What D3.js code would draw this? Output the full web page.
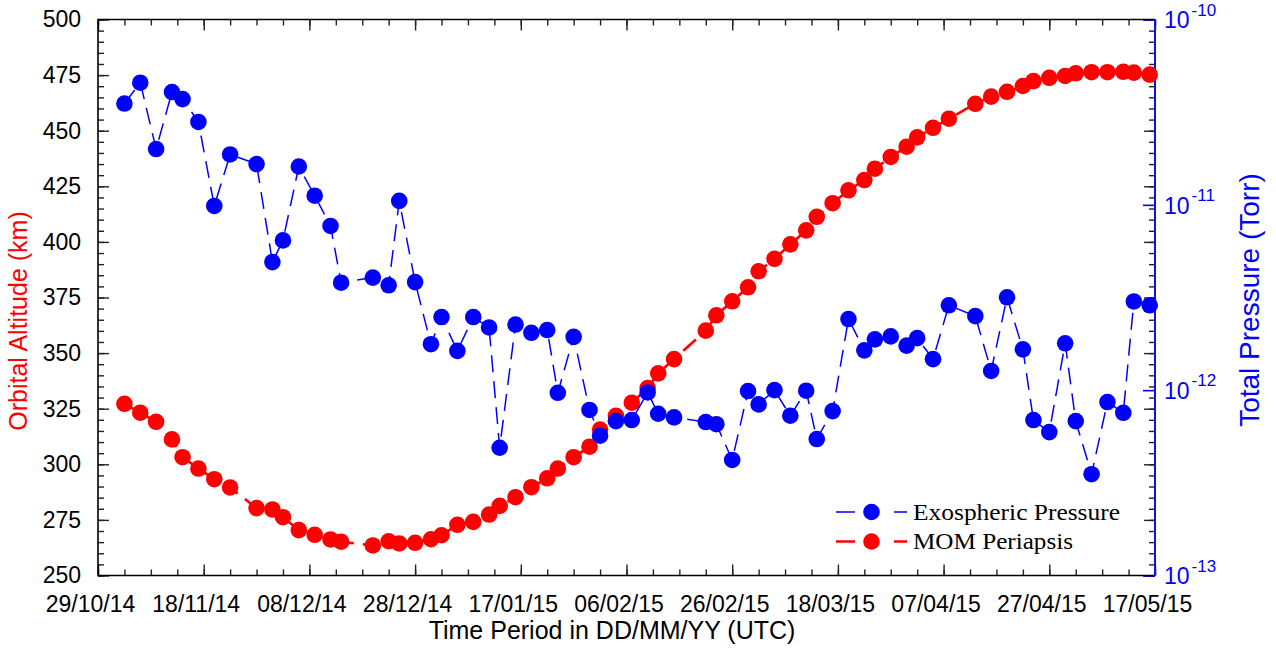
<!DOCTYPE html>
<html><head><meta charset="utf-8">
<script src="https://cdn.jsdelivr.net/npm/d3@7"></script>
<style>
body{margin:0;background:#fff;}
svg{display:block;}
text{font-family:"Liberation Sans",Arial,Helvetica,sans-serif;}
</style></head><body>
<svg id="chart" width="1276" height="653"></svg>
<script>
// ---------------- data ----------------
const dates = ["2014-11-03","2014-11-06","2014-11-09","2014-11-12","2014-11-14","2014-11-17","2014-11-20","2014-11-23","2014-11-28",
"2014-12-01","2014-12-03","2014-12-06","2014-12-09","2014-12-12","2014-12-14","2014-12-20","2014-12-23","2014-12-25","2014-12-28","2014-12-31",
"2015-01-02","2015-01-05","2015-01-08","2015-01-11","2015-01-13","2015-01-16","2015-01-19","2015-01-22","2015-01-24","2015-01-27","2015-01-30",
"2015-02-01","2015-02-04","2015-02-07","2015-02-10","2015-02-12","2015-02-15","2015-02-21","2015-02-23","2015-02-26",
"2015-03-01","2015-03-03","2015-03-06","2015-03-09","2015-03-12","2015-03-14","2015-03-17","2015-03-20","2015-03-23","2015-03-25","2015-03-28","2015-03-31",
"2015-04-02","2015-04-05","2015-04-08","2015-04-13","2015-04-16","2015-04-19","2015-04-22","2015-04-24","2015-04-27","2015-04-30",
"2015-05-02","2015-05-05","2015-05-08","2015-05-11","2015-05-13","2015-05-16"];

const periapsisKm = [327.2,323.2,319.1,311.2,303.2,298.1,293.3,289.6,280.3,279.7,276.2,270.4,268.3,266.2,265.2,
263.5,265.4,264.4,264.7,266.3,268.1,272.8,274.1,277.4,281.3,285.2,289.7,293.7,298.1,303.2,307.9,315.6,321.8,327.7,334.3,340.9,347.3,
360.1,367.0,373.3,379.6,386.8,392.4,398.9,405.2,411.3,417.4,423.2,427.8,432.9,438.2,442.8,447.0,451.3,455.4,
462.1,465.3,467.5,470.1,472.3,473.8,474.6,475.8,476.3,476.3,476.5,476.1,475.2];

const pressureTorr = [3.52e-11,4.56e-11,2.00e-11,4.06e-11,3.72e-11,2.80e-11,9.86e-12,1.87e-11,
1.66e-11,4.91e-12,6.43e-12,1.61e-11,1.12e-11,7.69e-12,3.80e-12,
4.05e-12,3.68e-12,1.05e-11,3.83e-12,1.77e-12,2.48e-12,1.63e-12,2.48e-12,2.18e-12,4.89e-13,2.26e-12,2.04e-12,2.11e-12,9.68e-13,1.94e-12,7.82e-13,5.68e-13,6.81e-13,6.90e-13,9.72e-13,7.46e-13,7.13e-13,
6.73e-13,6.55e-13,4.20e-13,9.89e-13,8.38e-13,1.00e-12,7.28e-13,9.93e-13,5.45e-13,7.71e-13,2.42e-12,1.64e-12,1.88e-12,1.95e-12,1.74e-12,1.91e-12,1.47e-12,2.87e-12,
2.51e-12,1.27e-12,3.17e-12,1.66e-12,6.90e-13,5.94e-13,1.79e-12,6.81e-13,3.52e-13,8.63e-13,7.55e-13,3.01e-12,2.87e-12];

const xTickLabels = ["29/10/14","18/11/14","08/12/14","28/12/14","17/01/15","06/02/15","26/02/15","18/03/15","07/04/15","27/04/15","17/05/15"];
const leftTicks = [250,275,300,325,350,375,400,425,450,475,500];
const rightTickExponents = [-13,-12,-11,-10];
const seriesNames = ["Exospheric Pressure","MOM Periapsis"];
const axisTitles = {x:"Time Period in DD/MM/YY (UTC)", left:"Orbital Altitude (km)", right:"Total Pressure (Torr)"};

// ---------------- setup ----------------
const L = 98, R = 1155, T = 19.5, B = 575.5;
const RED = "#ff0000", BLUE = "#0000ff";
const svg = d3.select("#chart");
const parse = d3.utcParse("%Y-%m-%d");
const parseTick = d3.utcParse("%d/%m/%y");
const majorDates = xTickLabels.map(parseTick);
const x = d3.scaleUtc().domain([majorDates[0], majorDates[majorDates.length-1]]).range([L, R]);
const yL = d3.scaleLinear().domain([250, 500]).range([B, T]);
const yR = d3.scaleLog().domain([1e-13, 1e-10]).range([B, T]);

const minorDates = d3.utcDay.range(majorDates[0], d3.utcDay.offset(majorDates[majorDates.length-1], 1), 5);
const minorKm = d3.range(250, 501, 5);

const data = dates.map((d, i) => ({date: parse(d), km: periapsisKm[i], p: pressureTorr[i]}));

function styleAxis(g){
  g.select(".domain").remove();
  g.selectAll(".tick line").attr("stroke", "#222").attr("stroke-width", 1.4);
  g.selectAll("text").attr("font-size", 23).attr("fill", "#000")
   .style("font-family", "'Liberation Sans', Arial, sans-serif");
}

// bottom
svg.append("g").attr("transform", `translate(0,${B})`)
  .call(d3.axisBottom(x).tickValues(minorDates).tickSize(-6).tickFormat("")).call(styleAxis);
svg.append("g").attr("transform", `translate(0,${B})`)
  .call(d3.axisBottom(x).tickValues(majorDates).tickSize(-11).tickPadding(20).tickFormat((d, i) => xTickLabels[i]))
  .call(styleAxis)
  .selectAll("text").attr("dx", -8);
// top (mirror)
svg.append("g").attr("transform", `translate(0,${T})`)
  .call(d3.axisTop(x).tickValues(minorDates).tickSize(-6).tickFormat("")).call(styleAxis);
svg.append("g").attr("transform", `translate(0,${T})`)
  .call(d3.axisTop(x).tickValues(majorDates).tickSize(-11).tickFormat("")).call(styleAxis);
// left
svg.append("g").attr("transform", `translate(${L},0)`)
  .call(d3.axisLeft(yL).tickValues(minorKm).tickSize(-6).tickFormat("")).call(styleAxis);
svg.append("g").attr("transform", `translate(${L},0)`)
  .call(d3.axisLeft(yL).tickValues(leftTicks).tickSize(-11).tickPadding(17).tickFormat(d3.format("d")))
  .call(styleAxis);
// right mirror of left
svg.append("g").attr("transform", `translate(${R},0)`)
  .call(d3.axisRight(yL).tickValues(minorKm).tickSize(-6).tickFormat("")).call(styleAxis);
svg.append("g").attr("transform", `translate(${R},0)`)
  .call(d3.axisRight(yL).tickValues(leftTicks).tickSize(-11).tickFormat("")).call(styleAxis);
// right log axis (blue)
const rAxis = svg.append("g").attr("transform", `translate(${R},0)`)
  .call(d3.axisRight(yR).tickValues(rightTickExponents.map(e => Math.pow(10, e))).tickSize(-12).tickFormat(""));
rAxis.select(".domain").remove();
rAxis.selectAll(".tick line").attr("stroke", BLUE).attr("stroke-width", 1.6);
rAxis.selectAll(".tick").each(function(d, i){
  const t = d3.select(this).append("text").attr("x", 9).attr("y", 0).attr("dy", "0.36em")
    .attr("fill", BLUE).attr("font-size", 23).attr("text-anchor", "start");
  t.append("tspan").text("10");
  t.append("tspan").attr("font-size", 17).attr("dx", 2).attr("dy", "-0.75em").text(String(rightTickExponents[i]));
});

// frame
svg.append("path").attr("d", `M${R},${T}H${L}V${B}H${R}`).attr("fill", "none").attr("stroke", "#000").attr("stroke-width", 1.6);
svg.append("line").attr("x1", R).attr("x2", R).attr("y1", T).attr("y2", B).attr("stroke", "#1010e0").attr("stroke-width", 2);

// ---------------- series ----------------
const lineKm = d3.line().x(d => x(d.date)).y(d => yL(d.km));
const lineP = d3.line().x(d => x(d.date)).y(d => yR(d.p));
const R_DOT = 8.3;

svg.append("path").datum(data).attr("d", lineKm).attr("fill", "none")
  .attr("stroke", RED).attr("stroke-width", 2.6).attr("stroke-dasharray", "17,9");
svg.append("g").selectAll("circle").data(data).join("circle")
  .attr("cx", d => x(d.date)).attr("cy", d => yL(d.km)).attr("r", R_DOT).attr("fill", RED);

svg.append("path").datum(data).attr("d", lineP).attr("fill", "none")
  .attr("stroke", BLUE).attr("stroke-width", 1.5).attr("stroke-dasharray", "17,9");
svg.append("g").selectAll("circle").data(data).join("circle")
  .attr("cx", d => x(d.date)).attr("cy", d => yR(d.p)).attr("r", R_DOT).attr("fill", BLUE);

// ---------------- titles ----------------
svg.append("text").attr("transform", "translate(27,321) rotate(-90)").attr("text-anchor", "middle")
  .attr("font-size", 25).attr("fill", RED).text(axisTitles.left);
svg.append("text").attr("transform", "translate(1259,300) rotate(-90)").attr("text-anchor", "middle")
  .attr("font-size", 28).attr("fill", BLUE).text(axisTitles.right);
svg.append("text").attr("x", 612).attr("y", 639).attr("text-anchor", "middle")
  .attr("font-size", 25).attr("fill", "#000").text(axisTitles.x);

// ---------------- legend ----------------
const legendRows = [
  {name: seriesNames[0], color: BLUE, w: 1.5, y: 512, len: 207},
  {name: seriesNames[1], color: RED, w: 2.6, y: 541.5, len: 160}
];
const lg = svg.append("g");
legendRows.forEach(r => {
  lg.append("line").attr("x1", 836).attr("x2", 907).attr("y1", r.y).attr("y2", r.y)
    .attr("stroke", r.color).attr("stroke-width", r.w).attr("stroke-dasharray", "19,39,13");
  lg.append("circle").attr("cx", 871.5).attr("cy", r.y).attr("r", R_DOT).attr("fill", r.color);
  lg.append("text").attr("x", 913).attr("y", r.y + 7.5).attr("font-size", 24)
    .style("font-family", "'Liberation Serif','Times New Roman',serif")
    .attr("textLength", r.len).attr("lengthAdjust", "spacingAndGlyphs")
    .attr("fill", "#000").text(r.name);
});
</script>
</body></html>
